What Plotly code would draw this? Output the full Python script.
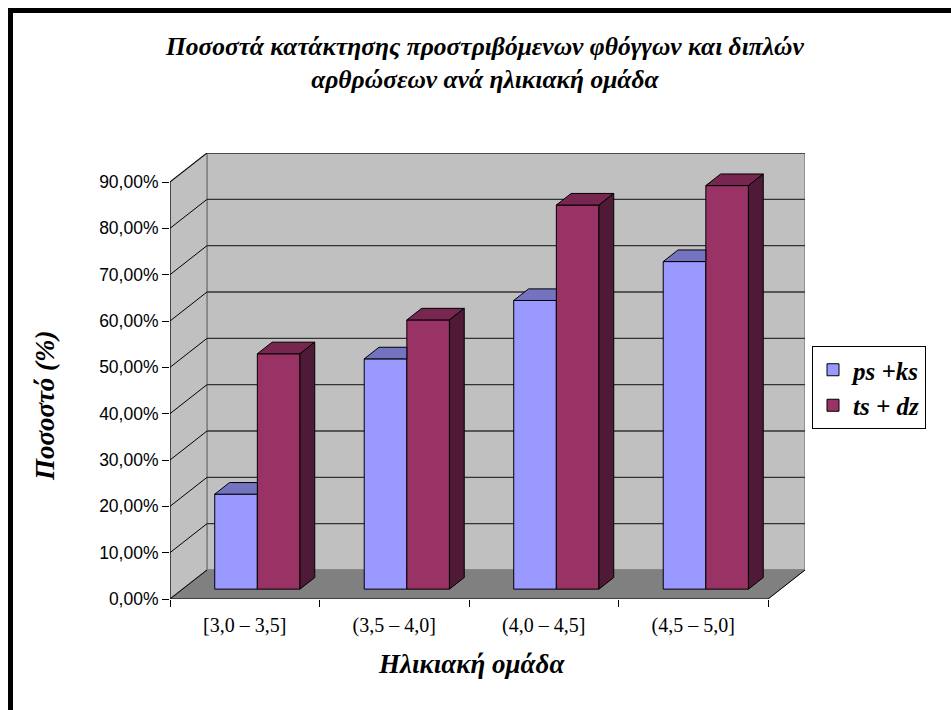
import plotly.graph_objects as go

# ---------------- data ----------------
categories = ["[3,0 – 3,5]", "(3,5 – 4,0]", "(4,0 – 4,5]", "(4,5 – 5,0]"]
ps_ks = [20.5, 49.7, 62.3, 70.7]
ts_dz = [50.8, 58.1, 82.9, 87.1]
series_names = ["ps +ks", "ts + dz"]
y_ticks = [0, 10, 20, 30, 40, 50, 60, 70, 80, 90]
y_tick_labels = ["0,00%", "10,00%", "20,00%", "30,00%", "40,00%", "50,00%",
                 "60,00%", "70,00%", "80,00%", "90,00%"]

# ---------------- styling / geometry constants ----------------
W_PX, H_PX = 951, 710
ML, MR, MT, MB = 170, 146, 153, 111
DX, DY = 0.2475, 6.26          # full wall depth in (category units, percent)
YMAX = 90
POS_F, DEP_F = 0.34, 0.40      # bar position depth fraction & bar depth fraction
BW = 0.285                     # width of each bar
BX, BASE = POS_F * DX, POS_F * DY
BDX, BDY = DEP_F * DX, DEP_F * DY
N = len(categories)

BLUE_F, BLUE_T = "#9999FF", "#7373C0"
RED_F, RED_T, RED_S = "#993366", "#77264F", "#4F1A35"
WALL, FLOOR, EDGE, GRID = "#C0C0C0", "#808080", "#808080", "#333333"
SERIF = "Times New Roman, Liberation Serif, serif"
SANS = "Arial, Liberation Sans, sans-serif"


def px2paper_x(px):
    return (px - ML) / (W_PX - ML - MR)


def px2paper_y(py):
    return (H_PX - MB - py) / (H_PX - MT - MB)


def path(pts):
    return "M " + " L ".join(f"{x},{y}" for x, y in pts) + " Z"


fig = go.Figure()

centers = [i + 0.5 + BX for i in range(N)]
fig.add_trace(go.Bar(x=centers, y=ps_ks, base=BASE, width=BW, offset=-BW,
                     marker=dict(color=BLUE_F, line=dict(color="black", width=1)),
                     name=f"<b><i>{series_names[0]}</i></b>"))
fig.add_trace(go.Bar(x=centers, y=ts_dz, base=BASE, width=BW, offset=0,
                     marker=dict(color=RED_F, line=dict(color="black", width=1)),
                     name=f"<b><i>{series_names[1]}</i></b>"))


def poly(pts, color):
    xs = [p[0] for p in pts] + [pts[0][0]]
    ys = [p[1] for p in pts] + [pts[0][1]]
    fig.add_trace(go.Scatter(x=xs, y=ys, mode="lines", fill="toself",
                             fillcolor=color, line=dict(color="black", width=1),
                             showlegend=False, hoverinfo="skip"))


for c, b, r in zip(centers, ps_ks, ts_dz):
    xl = c - BW
    tb = BASE + b
    tr = BASE + r
    # visible part of the blue top face
    poly([(xl, tb), (c, tb), (c, tb + BDY), (xl + BDX, tb + BDY)], BLUE_T)
    # red top face
    poly([(c, tr), (c + BW, tr), (c + BW + BDX, tr + BDY), (c + BDX, tr + BDY)], RED_T)
    # red side face
    poly([(c + BW, BASE), (c + BW + BDX, BASE + BDY), (c + BW + BDX, tr + BDY),
          (c + BW, tr)], RED_S)

shapes = []
# back wall
shapes.append(dict(type="rect", xref="x", yref="y", x0=DX, x1=N + DX, y0=DY, y1=YMAX + DY,
                   fillcolor=WALL, line=dict(color=EDGE, width=1.5), layer="below"))
# left wall
shapes.append(dict(type="path", xref="x", yref="y",
                   path=path([(0, 0), (DX, DY), (DX, YMAX + DY), (0, YMAX)]),
                   fillcolor=WALL, line=dict(color=EDGE, width=1.5), layer="below"))
# floor
shapes.append(dict(type="path", xref="x", yref="y",
                   path=path([(0, 0), (N, 0), (N + DX, DY), (DX, DY)]),
                   fillcolor=FLOOR, line=dict(color=EDGE, width=1), layer="below"))
# grid lines
for v in y_ticks[1:]:
    shapes.append(dict(type="line", xref="x", yref="y", x0=DX, x1=N + DX, y0=v + DY, y1=v + DY,
                       line=dict(color=GRID, width=1.3), layer="below"))
    shapes.append(dict(type="line", xref="x", yref="y", x0=0, x1=DX, y0=v, y1=v + DY,
                       line=dict(color="black", width=1), layer="below"))
# front axis lines
shapes.append(dict(type="line", xref="x", yref="y", x0=0, x1=0, y0=0, y1=YMAX,
                   line=dict(color="black", width=1), layer="below"))
shapes.append(dict(type="line", xref="x", yref="y", x0=0, x1=N, y0=0, y1=0,
                   line=dict(color="black", width=1), layer="below"))
shapes.append(dict(type="line", xref="x", yref="y", x0=N, x1=N + DX, y0=0, y1=DY,
                   line=dict(color="black", width=1), layer="below"))
shapes.append(dict(type="line", xref="x", yref="y", x0=0, x1=DX, y0=0, y1=DY,
                   line=dict(color="black", width=1), layer="below"))
# outer frame
shapes.append(dict(type="rect", xref="paper", yref="paper",
                   x0=px2paper_x(10.5), x1=px2paper_x(1000),
                   y0=px2paper_y(800), y1=px2paper_y(10.5),
                   line=dict(color="black", width=5), fillcolor="rgba(0,0,0,0)"))

annotations = [
    dict(text="<b><i>Ποσοστά κατάκτησης προστριβόμενων φθόγγων και διπλών<br>"
              "αρθρώσεων ανά ηλικιακή ομάδα</i></b>",
         xref="paper", yref="paper", x=px2paper_x(484), y=px2paper_y(63),
         xanchor="center", yanchor="middle", showarrow=False,
         font=dict(family=SERIF, size=25.5, color="black"), align="center"),
    dict(text="<b><i>Ηλικιακή ομάδα</i></b>", xref="paper", yref="paper",
         x=px2paper_x(471), y=px2paper_y(664), xanchor="center", yanchor="middle",
         showarrow=False, font=dict(family=SERIF, size=27, color="black")),
    dict(text="<b><i>Ποσοστό (%)</i></b>", xref="paper", yref="paper",
         x=px2paper_x(45), y=px2paper_y(406), xanchor="center", yanchor="middle",
         textangle=-90, showarrow=False, font=dict(family=SERIF, size=27, color="black")),
]

fig.update_layout(
    width=W_PX, height=H_PX,
    margin=dict(l=ML, r=MR, t=MT, b=MB, pad=0),
    paper_bgcolor="white", plot_bgcolor="white",
    barmode="overlay",
    shapes=shapes, annotations=annotations,
    showlegend=True,
    legend=dict(x=px2paper_x(812), y=px2paper_y(346), xanchor="left", yanchor="top",
                bordercolor="black", borderwidth=1, bgcolor="white",
                font=dict(family=SERIF, size=25, color="black"),
                traceorder="normal", itemwidth=30, tracegroupgap=0),
    xaxis=dict(range=[0, N + DX], tickmode="array",
               tickvals=[i + 0.5 for i in range(N)], ticktext=categories,
               ticks="", showgrid=False, zeroline=False, showline=False,
               tickfont=dict(family=SERIF, size=20, color="black"),
               minor=dict(tickmode="array", tickvals=list(range(N + 1)), ticks="outside",
                          ticklen=7, tickcolor="black", showgrid=False),
               ticklabelstandoff=12, fixedrange=True),
    yaxis=dict(range=[0, YMAX + DY], tickmode="array", tickvals=y_ticks,
               ticktext=y_tick_labels, ticks="outside", ticklen=7, tickcolor="black",
               showgrid=False, zeroline=False, showline=False,
               tickfont=dict(family=SANS, size=17.5, color="black"), fixedrange=True),
)

fig.write_html("out.html")
